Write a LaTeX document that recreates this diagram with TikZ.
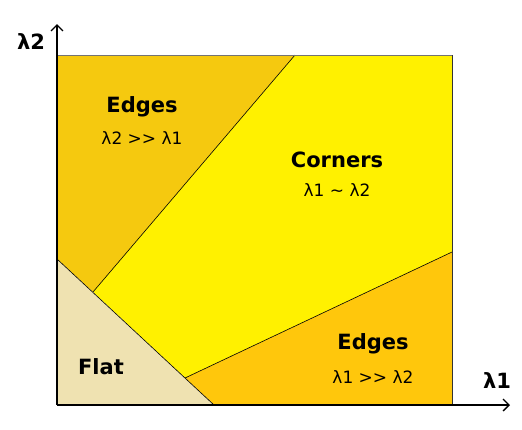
\documentclass[tikz,border=0pt]{standalone}
\usepackage{fontspec}
\setmainfont{DejaVu Sans}[Ligatures=TeXOff]
\usetikzlibrary{arrows.meta}
\definecolor{edgeA}{HTML}{F5C90F}
\definecolor{edgeB}{HTML}{FFC70C}
\definecolor{corner}{HTML}{FFF100}
\definecolor{flat}{HTML}{EFE2B1}

\begin{document}
\begin{tikzpicture}[
    x=1pt, y=-1pt,
    >={Straight Barb[length=6pt, width=12pt, line width=1.3pt]},
    split/.style={draw=black, line width=0.6pt},
    title/.style={font=\fontsize{21}{24}\selectfont\bfseries},
    sub/.style={font=\fontsize{17}{20}\selectfont},
    axlab/.style={font=\fontsize{21}{24}\selectfont\bfseries},
]
\useasboundingbox (0,0) rectangle (522,429);

% corner points of the regions
\coordinate (tl) at (57,55);
\coordinate (tr) at (452,55);
\coordinate (br) at (452,405);
\coordinate (bl) at (57,405);
\coordinate (p1) at (295,55);
\coordinate (p2) at (93,292);
\coordinate (p3) at (185,378);
\coordinate (p4) at (452,252);
\coordinate (f1) at (57,259);
\coordinate (f2) at (214,405);

% regions
\fill[edgeA] (tl) -- (p1) -- (p2) -- (f1) -- cycle;
\fill[corner] (p1) -- (tr) -- (p4) -- (p3) -- (p2) -- cycle;
\fill[edgeB] (p3) -- (p4) -- (br) -- (f2) -- cycle;
\fill[flat] (f1) -- (f2) -- (bl) -- cycle;

% borders
\draw[split] (p1) -- (p2);
\draw[split] (f1) -- (f2);
\draw[split] (p3) -- (p4);
\draw[draw=black!55, line width=0.8pt] (tl) -- (tr);
\draw[draw=black!80, line width=0.6pt] (tr) -- (br);

% axes
\coordinate (ytop) at (57,24);
\coordinate (xend) at (510,405);
\draw[->, line width=1.6pt] (bl) -- (ytop);
\draw[->, line width=1.6pt] (bl) -- (xend);
\node[axlab] (ylab) at (31,42) {λ2};
\node[axlab] (xlab) at (497,381) {λ1};

% labels
\node[title] (e1) at (142,107) {Edges};
\node[sub]   (e1s) at (142,138) {λ2 >> λ1};
\node[title] (c)  at (337,160) {Corners};
\node[sub]   (cs) at (337,190) {λ1 \textasciitilde{} λ2};
\node[title] (e2) at (373,344) {Edges};
\node[sub]   (e2s) at (373,377) {λ1 >> λ2};
\node[title] (fl) at (101,367) {Flat};

\end{tikzpicture}
\end{document}
